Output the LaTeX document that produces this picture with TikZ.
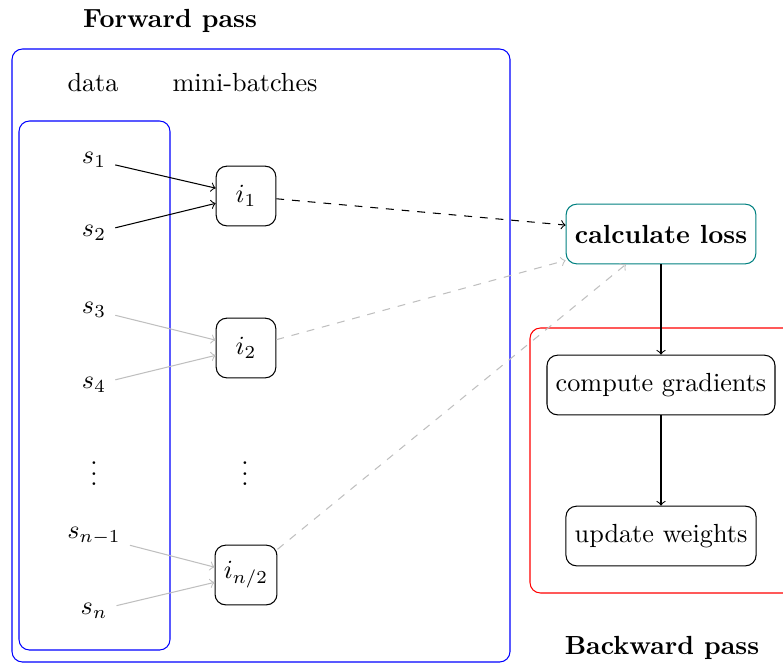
\documentclass[tikz,border=0pt]{standalone}
\begin{document}
\begin{tikzpicture}[x=0.3817pt,y=-0.3817pt,
  box/.style={draw, rounded corners, minimum height=0.8cm, align=center},
  ibox/.style={box, minimum width=0.8cm},
  lossbox/.style={box, draw=teal, font=\bfseries},
  frame/.style={rounded corners},
  feed/.style={->},
  feedlight/.style={->, lightgray},
  topass/.style={->, dashed},
  topasslight/.style={->, dashed, lightgray},
  title/.style={font=\bfseries},
  dots/.style={inner sep=0pt}]
\useasboundingbox (0,0) rectangle (783,664);

% frames around the forward and backward passes
\draw[frame, blue] (12,49) rectangle (510,662);
\draw[frame, blue] (19,121) rectangle (170,650);
\draw[frame, red] (530,328) rectangle (820,593);

% titles and column headings
\node[title] (fwd) at (170,21) {Forward pass};
\node[title] (bwd) at (662,648) {Backward pass};
\node (data) at (93,83) {data};
\node (mb) at (245,83) {mini-batches};

% samples
\node (s1) at (94,160) {$s_1$};
\node (s2) at (94,233) {$s_2$};
\node (s3) at (94,310) {$s_3$};
\node (s4) at (94,385) {$s_4$};
\node[dots] (sd) at (94,466) {$\vdots$};
\node (sn1) at (94,536) {$s_{n-1}$};
\node (sn) at (94,611) {$s_n$};

% mini-batches
\node[ibox] (i1) at (246,196) {$i_1$};
\node[ibox] (i2) at (246,348) {$i_2$};
\node[dots] (id) at (245,466) {$\vdots$};
\node[ibox] (in) at (246,575) {$i_{n/2}$};

% loss and update steps
\node[lossbox] (loss) at (661,234) {calculate loss};
\node[box] (grad) at (661,385) {compute gradients};
\node[box] (upd) at (661,536) {update weights};

% samples into mini-batches
\draw[feed] (s1) -- ([yshift=3pt]i1.west);
\draw[feed] (s2) -- ([yshift=-2.8pt]i1.west);
\draw[feedlight] (s3) -- ([yshift=3pt]i2.west);
\draw[feedlight] (s4) -- ([yshift=-2.8pt]i2.west);
\draw[feedlight] (sn1) -- ([yshift=3pt]in.west);
\draw[feedlight] (sn) -- ([yshift=-2.8pt]in.west);

% mini-batches into the loss
\draw[topass] (i1) -- ([yshift=3.4pt]loss.west);
\draw[topasslight] (i2) -- ([yshift=1.5pt]loss.south west);
\draw[topasslight] (in) -- ([xshift=-13.4pt]loss.south);

% backward pass
\draw[feed] (loss) -- (grad);
\draw[feed] (grad) -- (upd);
\end{tikzpicture}
\end{document}
